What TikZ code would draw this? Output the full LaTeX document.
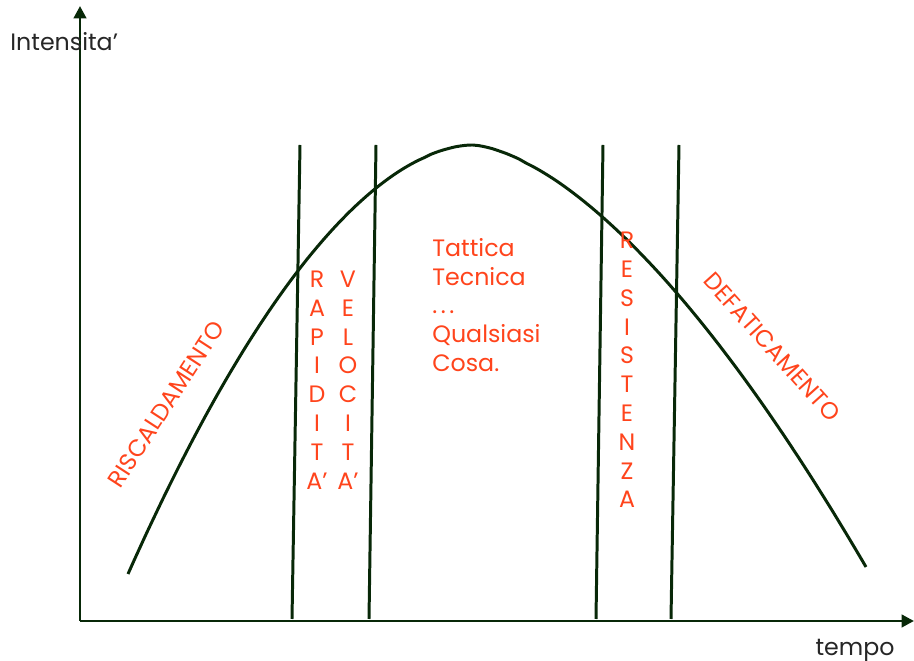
\documentclass[tikz,border=0pt]{standalone}
\usepackage{fontspec}
\setmainfont{Poppins}
\usetikzlibrary{arrows.meta}
\definecolor{dkgreen}{RGB}{8,40,8}
\definecolor{phase}{RGB}{255,68,28}

\begin{document}
\begin{tikzpicture}[x=0.02cm, y=-0.02cm, >={Triangle[length=7pt,width=7pt]},
  axis/.style={line width=1.7pt, dkgreen},
  bound/.style={line width=1.7pt, dkgreen},
  lbl/.style={font=\fontsize{13.5}{16.4}\selectfont, phase, inner sep=0pt},
  col/.style={lbl, align=center}]
  \useasboundingbox (0,0) rectangle (914,661);
  % axes
  \coordinate (o) at (80,621);
  \coordinate (ytop) at (80,6);
  \coordinate (xend) at (914,621);
  \draw[axis,->] (o) -- (ytop);
  \draw[axis,->] (o) -- (xend);
  \node[anchor=west, inner sep=0pt, font=\fontsize{13.5}{16}\selectfont, black!85] (ylab) at (10,42) {Intensita'};
  \node[inner sep=0pt, font=\fontsize{13.5}{16}\selectfont, black!85] (xlab) at (855,650) {tempo};
  % intensity curve (rise, then slower fall)
  \draw[line width=1.7pt, dkgreen, line join=round]
    plot[domain=-344:-0.5, samples=60, smooth] ({472+\x},{145+429*exp(1.8*ln(-\x/344))})
    -- plot[domain=0.5:394, samples=60, smooth] ({472+\x},{145+422*exp(1.6*ln(\x/394))});
  % phase boundaries
  \coordinate (b1t) at (300,145); \coordinate (b1b) at (292,619);
  \coordinate (b2t) at (376,145); \coordinate (b2b) at (369,619);
  \coordinate (b3t) at (603,145); \coordinate (b3b) at (596,619);
  \coordinate (b4t) at (679,145); \coordinate (b4b) at (671,619);
  \draw[bound] (b1t) -- (b1b);
  \draw[bound] (b2t) -- (b2b);
  \draw[bound] (b3t) -- (b3b);
  \draw[bound] (b4t) -- (b4b);
  % phase labels
  \node[lbl, rotate=57] (warm) at (166,404) {RISCALDAMENTO};
  \node[col] (rapid) at (317,380) {R\\A\\P\\I\\D\\I\\T\\A'};
  \node[col] (speed) at (348,380) {V\\E\\L\\O\\C\\I\\T\\A'};
  \node[lbl, anchor=west, align=left] (tact) at (432,305) {Tattica\\Tecnica\\.\kern2pt.\kern2pt.\\Qualsiasi\\Cosa.};
  \node[col] (resist) at (627,370) {R\\E\\S\\I\\S\\T\\E\\N\\Z\\A};
  \node[lbl, rotate=-48] (cool) at (772,347) {DEFATICAMENTO};
\end{tikzpicture}
\end{document}
